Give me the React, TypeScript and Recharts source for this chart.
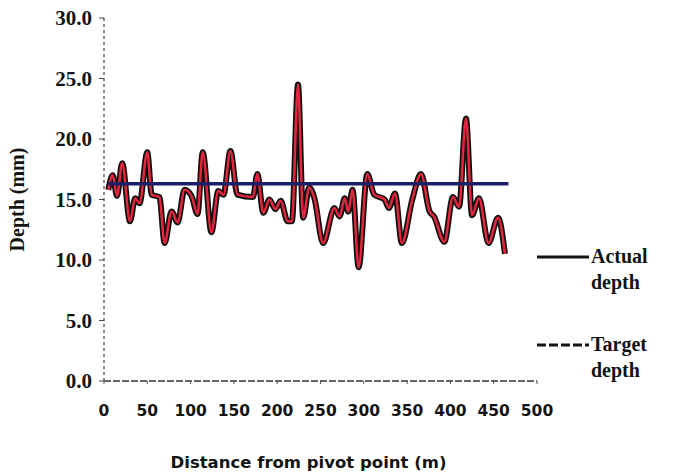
import { Label, Line, LineChart, XAxis, YAxis } from "recharts";

// Distance from the pivot (m) and the measured depth (mm) at each reading
const distancias = [
  5, 10, 15, 21, 30, 36, 41, 50, 55, 64, 70, 78, 85, 93, 101, 108, 114, 124,
  132, 138, 146, 154, 172, 177, 184, 191, 198, 204, 212, 217, 224, 230, 237,
  243, 253, 266, 272, 278, 282, 287, 294, 304, 312, 324, 329, 336, 344, 356,
  366, 376, 381, 393, 403, 410, 418, 425, 433, 444, 455, 463,
];
const profundidades = [
  15.8, 17.0, 15.3, 18.0, 13.2, 15.1, 14.7, 18.9, 15.4, 15.2, 11.4, 14.0,
  13.1, 15.8, 15.3, 13.8, 18.9, 12.3, 15.7, 15.4, 19.0, 15.4, 15.2, 17.1,
  13.9, 15.0, 14.2, 14.9, 13.2, 13.2, 24.5, 13.5, 16.0, 15.1, 11.4, 14.3,
  13.6, 15.1, 14.0, 15.8, 9.4, 17.1, 15.4, 15.0, 14.3, 15.5, 11.4, 15.0,
  17.1, 14.0, 13.6, 11.5, 15.2, 14.4, 21.7, 13.7, 15.1, 11.4, 13.5, 10.5,
];

// Target depth is a flat line across the measured span
const alvoDistancias = [5, 467];
const profundidadeAlvo = 16.3;

const ticksX = [0, 50, 100, 150, 200, 250, 300, 350, 400, 450, 500];
const ticksY = [0, 5, 10, 15, 20, 25, 30];
const nomesSeries = ["Actual depth", "Target depth"];

const pontos = distancias.map((d, i) => ({
  distancia: d,
  profundidade: profundidades[i],
}));
const pontosAlvo = alvoDistancias.map((d) => ({
  distancia: d,
  alvo: profundidadeAlvo,
}));

const serif = '"Liberation Serif", "Times New Roman", serif';
const sans = '"DejaVu Sans", Verdana, sans-serif';
const tinta = "#141414";

/** Legend on the right: line sample plus a two-line name. */
function Legenda() {
  const estilos = [
    { dash: undefined, top: 0 },
    { dash: "9 3", top: 88 },
  ];
  return (
    <div
      style={{
        position: "absolute",
        left: 536,
        top: 243,
        width: 138,
        height: 150,
        fontFamily: serif,
        fontWeight: 700,
        fontSize: 20,
        lineHeight: "26px",
        color: tinta,
      }}
    >
      {nomesSeries.map((nome, i) => {
        const [a, b] = nome.split(" ");
        return (
          <div
            key={nome}
            style={{ position: "absolute", left: 0, top: estilos[i].top }}
          >
            <svg
              width={54}
              height={8}
              style={{ position: "absolute", left: 0, top: 10 }}
            >
              <line
                x1={1}
                y1={4}
                x2={53}
                y2={4}
                stroke={tinta}
                strokeWidth={3}
                strokeDasharray={estilos[i].dash}
              />
            </svg>
            <div style={{ position: "absolute", left: 55, top: 0 }}>
              <div>{a}</div>
              <div>{b}</div>
            </div>
          </div>
        );
      })}
    </div>
  );
}

export default function App() {
  return (
    <div
      style={{
        position: "absolute",
        left: 0,
        top: 0,
        width: 674,
        height: 472,
        background: "#fff",
      }}
    >
      <LineChart
        width={674}
        height={472}
        data={pontos}
        margin={{ top: 18, right: 137, bottom: 0, left: 0 }}
      >
        <XAxis
          dataKey="distancia"
          type="number"
          domain={[0, 500]}
          ticks={ticksX}
          interval={0}
          height={91}
          tickSize={3}
          tickMargin={21}
          axisLine={{ stroke: "#333", strokeWidth: 1.5, strokeDasharray: "7 2" }}
          tickLine={{ stroke: "#555" }}
          tick={{ fill: tinta, fontFamily: sans, fontWeight: 700, fontSize: 15.5 }}
        >
          <Label
            value="Distance from pivot point (m)"
            position="insideBottom"
            offset={4}
            dx={-12}
            style={{ fill: tinta, fontFamily: sans, fontWeight: 700, fontSize: 16.5 }}
          />
        </XAxis>
        <YAxis
          type="number"
          domain={[0, 30]}
          ticks={ticksY}
          interval={0}
          width={104}
          tickSize={5}
          tickMargin={7}
          tickFormatter={(v: number) => v.toFixed(1)}
          axisLine={{ stroke: "#666", strokeWidth: 1.5, strokeDasharray: "3 3" }}
          tickLine={{ stroke: "#444" }}
          tick={{ fill: tinta, fontFamily: serif, fontWeight: 700, fontSize: 21 }}
        >
          <Label
            value="Depth (mm)"
            angle={-90}
            position="insideLeft"
            offset={17}
            style={{
              fill: tinta,
              fontFamily: serif,
              fontWeight: 700,
              fontSize: 20,
              textAnchor: "middle",
            }}
          />
        </YAxis>
        {/* actual depth: dark casing with a red core */}
        <Line
          type="monotone"
          dataKey="profundidade"
          name={nomesSeries[0]}
          stroke="#141010"
          strokeWidth={6}
          dot={false}
          activeDot={false}
          isAnimationActive={false}
        />
        <Line
          type="monotone"
          dataKey="profundidade"
          stroke="#e2263f"
          strokeWidth={2.5}
          dot={false}
          activeDot={false}
          isAnimationActive={false}
        />
        <Line
          data={pontosAlvo}
          type="linear"
          dataKey="alvo"
          name={nomesSeries[1]}
          stroke="#1b1f66"
          strokeWidth={3.5}
          dot={false}
          activeDot={false}
          isAnimationActive={false}
        />
      </LineChart>
      <Legenda />
    </div>
  );
}
